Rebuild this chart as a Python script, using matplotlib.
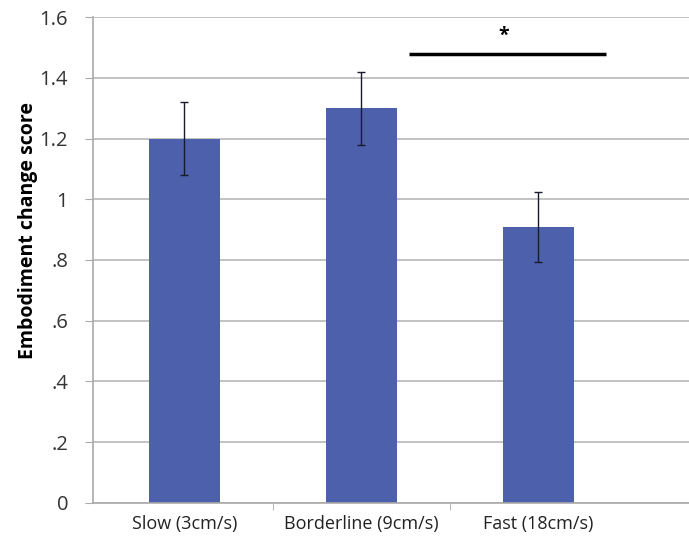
import numpy as np
import matplotlib.pyplot as plt

categories = ["Slow (3cm/s)", "Borderline (9cm/s)", "Fast (18cm/s)"]
scores = [1.20, 1.30, 0.91]
errors = [0.12, 0.12, 0.115]
ytick_vals = [0, 0.2, 0.4, 0.6, 0.8, 1.0, 1.2, 1.4, 1.6]
ytick_labels = ["0", ".2", ".4", ".6", ".8", "1", "1.2", "1.4", "1.6"]
sig_pair = (1.27, 2.38)
sig_height = 1.48

plt.rcParams["font.family"] = ["Open Sans", "DejaVu Sans"]

fig = plt.figure(figsize=(6.89, 5.52), dpi=100)
ax = fig.add_axes([0.135, 0.089, 0.865, 0.880])

x = np.arange(len(categories))
ax.bar(x, scores, width=0.4, color="#4D60AB", zorder=2)
ax.errorbar(x, scores, yerr=errors, fmt="none", ecolor="#1a1a2e",
            elinewidth=1, capsize=3, capthick=1, zorder=3)

# significance bar
ax.plot(sig_pair, [sig_height, sig_height], color="black", lw=2.5,
        solid_capstyle="butt", zorder=3)
ax.text(np.mean(sig_pair) - 0.02, sig_height + 0.025, "*", ha="center",
        va="bottom", fontsize=14, fontweight="bold")

ax.set_xlim(-0.515, 2.85)
ax.set_ylim(0, 1.6)
ax.set_yticks(ytick_vals)
ax.set_yticklabels(ytick_labels, fontsize=14.5, color="#333333")
ax.set_xticks(x)
ax.set_xticklabels(categories, fontsize=13, color="#222222")
ax.set_xticks([0.5, 1.5], minor=True)
ax.tick_params(axis="x", which="major", length=0, pad=9)
ax.tick_params(axis="x", which="minor", length=5, color="#aaaaaa")
ax.tick_params(axis="y", length=6, color="#aaaaaa", pad=12)

ax.grid(axis="y", color="#b8b8b8", lw=1.2, zorder=0)
for side in ["top", "right"]:
    ax.spines[side].set_visible(False)
for side in ["left", "bottom"]:
    ax.spines[side].set_color("#aaaaaa")
    ax.spines[side].set_linewidth(1.2)

ax.set_ylabel("Embodiment change score", fontsize=14, fontweight="bold")
ax.yaxis.set_label_coords(-0.092, 0.56)

fig.savefig("out.png", dpi=100, facecolor="white")
